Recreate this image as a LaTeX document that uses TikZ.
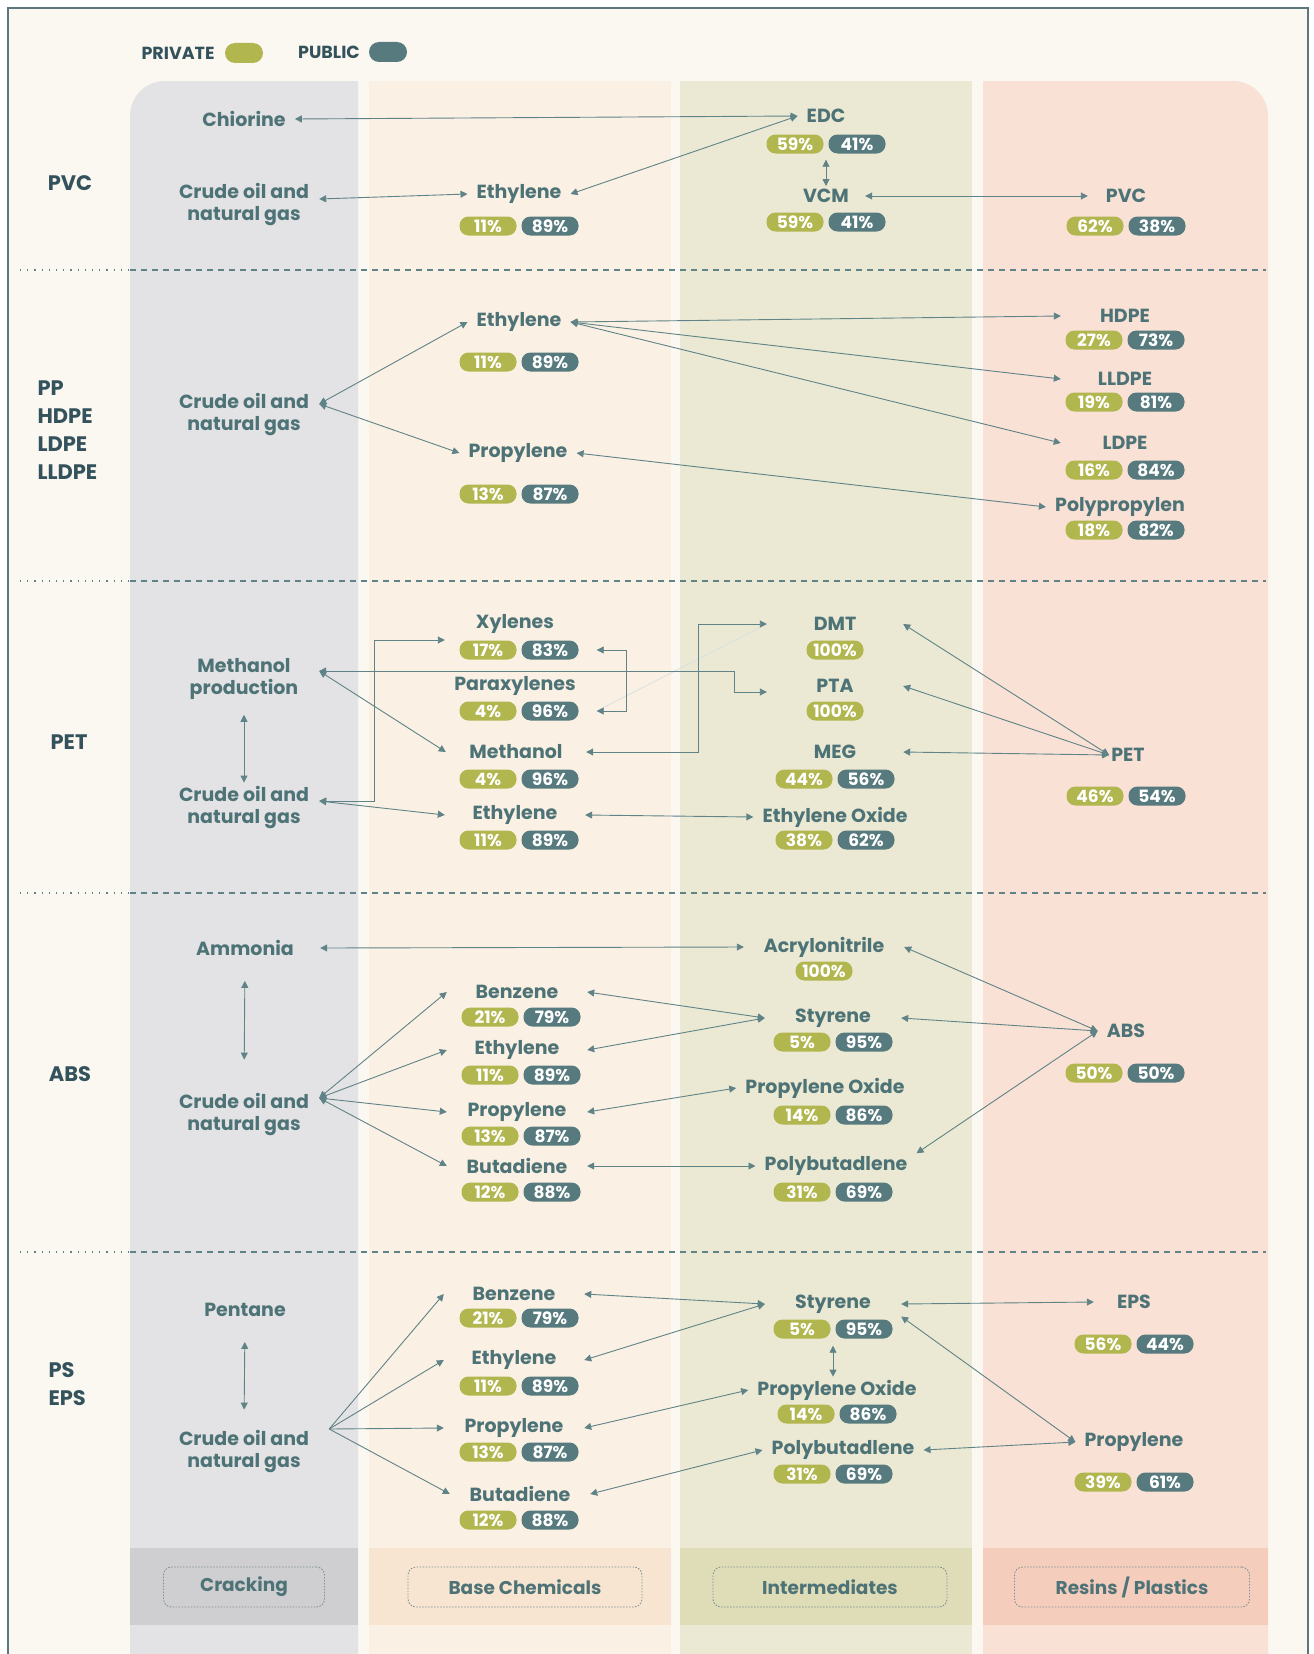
\documentclass[tikz,border=0pt]{standalone}
\usepackage{fontspec}
\setmainfont{Poppins}
\usetikzlibrary{arrows.meta}

\definecolor{ink}{HTML}{4E7376}
\definecolor{deep}{HTML}{33525C}
\definecolor{wire}{HTML}{5F8386}
\definecolor{olive}{HTML}{B2B64E}
\definecolor{slate}{HTML}{567A7D}
\definecolor{paper}{HTML}{FBF7F1}
\definecolor{rim}{HTML}{5D767B}
\definecolor{crackbg}{HTML}{E3E2E4}
\definecolor{basebg}{HTML}{FAF0E4}
\definecolor{interbg}{HTML}{EBE9D4}
\definecolor{resinbg}{HTML}{F9E1D6}
\definecolor{crackft}{HTML}{CFCED1}
\definecolor{baseft}{HTML}{F8E5D1}
\definecolor{interft}{HTML}{DFDCB8}
\definecolor{resinft}{HTML}{F5CDBD}

% two share pills under a product: name, x, y, private, public
\newcommand{\shares}[5]{%
  \node[pair] (#1)  at (#2,#3)              {};
  \node[priv] (#1p) at ([xshift=-31pt]#1.center) {#4\%};
  \node[publ] (#1q) at ([xshift=31pt]#1.center)  {#5\%};}

\begin{document}
\begin{tikzpicture}[x=1pt,y=-1pt,>={Triangle[length=7pt,width=7pt]},
    chem/.style={text=ink,font=\bfseries\fontsize{19}{22}\selectfont,inner xsep=9pt,inner ysep=3pt,align=center},
    feed/.style={chem,minimum width=150pt},
    base/.style={chem,minimum width=140pt},
    mid/.style={chem,minimum width=136pt},
    group/.style={text=deep,font=\bfseries\fontsize{21}{28}\selectfont,align=left},
    legend/.style={text=deep,font=\bfseries\fontsize{17.5}{17.5}\selectfont},
    priv/.style={fill=olive,text=white,rounded corners=9pt,minimum width=57pt,minimum height=19pt,inner sep=0pt,font=\bfseries\fontsize{17}{17}\selectfont},
    publ/.style={priv,fill=slate},
    pair/.style={minimum width=119pt,minimum height=19pt,inner sep=0pt},
    link/.style={draw=wire,line width=0.9pt,<->},
    feedlink/.style={link,->},
    faint/.style={draw=wire!25,line width=0.7pt},
    rule/.style={draw=wire,line width=1.1pt},
    stage/.style={draw=rim!80,line width=0.9pt,dash pattern=on 1.5pt off 1.5pt,rounded corners=8pt,text=ink,font=\bfseries\fontsize{18.5}{18.5}\selectfont,minimum height=40pt}]

  \useasboundingbox (0,0) rectangle (1314,1654);
  \fill[white] (0,0) rectangle (1314,1654);
  \fill[paper] (8,8) rectangle (1308,1654);

  \fill[crackbg] (130,1654) [rounded corners=35pt] -- (130,81) [sharp corners] -- (358,81) -- (358,1654) -- cycle;
  \fill[basebg]  (369,81) rectangle (671,1654);
  \fill[interbg] (680,81) rectangle (972,1654);
  \fill[resinbg] (983,1654) -- (983,81) [rounded corners=35pt] -- (1268,81) [sharp corners] -- (1268,1654) -- cycle;
  \fill[crackft] (130,1548) rectangle (358,1625);
  \fill[baseft]  (369,1548) rectangle (671,1625);
  \fill[interft] (680,1548) rectangle (972,1625);
  \fill[resinft] (983,1548) rectangle (1268,1625);

  \draw[rim,line width=1.2pt] (8,1660) -- (8,8) -- (1308,8) -- (1308,1660);

  \draw[rule,dash pattern=on 1.2pt off 6pt] (20,270) -- (130,270);
  \draw[rule,dash pattern=on 1.2pt off 6pt] (20,581) -- (130,581);
  \draw[rule,dash pattern=on 1.2pt off 6pt] (20,893) -- (130,893);
  \draw[rule,dash pattern=on 1.2pt off 6pt] (20,1252) -- (130,1252);
  \draw[rule,dash pattern=on 6pt off 5pt] (130,270) -- (1266,270);
  \draw[rule,dash pattern=on 6pt off 5pt] (130,581) -- (1266,581);
  \draw[rule,dash pattern=on 6pt off 5pt] (130,893) -- (1266,893);
  \draw[rule,dash pattern=on 6pt off 5pt] (130,1252) -- (1266,1252);

  \node[legend]                                            (privlab) at (178,53) {PRIVATE};
  \node[priv,minimum width=38pt,minimum height=20pt,rounded corners=10pt] (privkey) at (244,53) {};
  \node[legend]                                            (publab)  at (329,52) {PUBLIC};
  \node[publ,minimum width=38pt,minimum height=20pt,rounded corners=10pt] (publkey) at (388,52) {};

  \node[group]            (gpvc)  at (70,183)  {PVC};
  \node[group,anchor=west] (gpoly) at (34,430)  {PP\\HDPE\\LDPE\\LLDPE};
  \node[group]            (gpet)  at (69,742)  {PET};
  \node[group]            (gabs)  at (70,1074) {ABS};
  \node[group,anchor=west] (geps)  at (45,1384) {PS\\EPS};

  % PVC
  \node[chem]                   (chl)  at (244,119)  {Chiorine};
  \node[chem]                   (edc)  at (826,116)  {EDC};
  \shares{edcs}{826}{144}{59}{41}
  \node[feed]                   (oil1) at (244,205)  {Crude oil and\\natural gas};
  \node[chem]                   (eth1) at (519,194)  {Ethylene};
  \shares{eth1s}{519}{226}{11}{89}
  \node[chem,minimum width=78pt] (vcm)  at (826,196)  {VCM};
  \shares{vcms}{826}{222}{59}{41}
  \node[chem,minimum width=76pt] (pvc)  at (1126,196) {PVC};
  \shares{pvcs}{1126}{226}{62}{38}
  \path (chl.east)                edge[link] (edc.west)
        (eth1.east)               edge[link] (edc.west)
        ([yshift=6pt]oil1.east)   edge[link] (eth1.west)
        (edcs.south)              edge[link,shorten <=6pt] (vcm.north)
        (vcm.east)                edge[link] (pvc.west);

  % PP / PE
  \node[feed]                    (oil2)  at (244,414)  {Crude oil and\\natural gas};
  \node[chem]                    (eth2)  at (519,322)  {Ethylene};
  \shares{eth2s}{519}{362}{11}{89}
  \node[chem]                    (pro2)  at (518,453)  {Propylene};
  \shares{pro2s}{519}{494}{13}{87}
  \node[chem,minimum width=128pt] (hdpe)  at (1125,316) {HDPE};
  \shares{hdpes}{1125}{340}{27}{73}
  \node[chem,minimum width=128pt] (lldpe) at (1125,379) {LLDPE};
  \shares{lldpes}{1125}{402}{19}{81}
  \node[chem,minimum width=128pt] (ldpe)  at (1125,443) {LDPE};
  \shares{ldpes}{1125}{470}{16}{84}
  \node[chem]                    (pp)    at (1120,507) {Polypropylen};
  \shares{pps}{1125}{530}{18}{82}
  \path ([yshift=10pt]oil2.east) edge[link] (eth2.west) edge[link] (pro2.west)
        (eth2.east) edge[link] (hdpe.west) edge[link] (lldpe.west) edge[link] (ldpe.west)
        (pro2.east) edge[link] (pp.west);

  % PET
  \node[feed]                   (mprod) at (244,679)  {Methanol\\production};
  \node[feed]                   (oil3)  at (244,807)  {Crude oil and\\natural gas};
  \node[base]                   (xyl)   at (515,624)  {Xylenes};
  \shares{xyls}{519}{650}{17}{83}
  \node[base]                   (pxyl)  at (515,686)  {Paraxylenes};
  \shares{pxyls}{519}{711}{4}{96}
  \node[base]                   (meoh)  at (516,752)  {Methanol};
  \shares{meohs}{519}{779}{4}{96}
  \node[base]                   (eth3)  at (515,815)  {Ethylene};
  \shares{eth3s}{519}{840}{11}{89}
  \node[mid]                    (dmt)   at (835,624)  {DMT};
  \node[priv]                   (dmts)  at (835,650)  {100\%};
  \node[mid]                    (pta)   at (835,686)  {PTA};
  \node[priv]                   (ptas)  at (835,711)  {100\%};
  \node[mid]                    (meg)   at (835,752)  {MEG};
  \shares{megs}{835}{779}{44}{56}
  \node[chem]                   (eo)    at (835,817)  {Ethylene Oxide};
  \shares{eos}{835}{840}{38}{62}
  \node[chem,inner xsep=2pt]     (pet)   at (1128,755) {PET};
  \shares{pets}{1126}{796}{46}{54}
  \path (mprod.south)             edge[link,shorten <=12pt] (oil3.north)
        ([yshift=6pt]oil3.east)   edge[link] (eth3.west)
        ([yshift=8pt]mprod.east)  edge[link] (meoh.west)
        (eth3.east)               edge[link] (eo.west)
        (pet.west) edge[link] (dmt.east) edge[link] (pta.east) edge[link] (meg.east);
  \draw[faint] ([xshift=18pt]pxyls.east) -- (dmt.west);
  \draw[link] ([yshift=6pt]oil3.east) -- ++(55,0) |- ([yshift=-16pt]xyl.west);
  \draw[link] ([yshift=8pt]mprod.east) -- ++(415,0) |- ([yshift=-6pt]pta.west);
  \draw[link] ([xshift=18pt]xyls.east) -- ++(30,0) |- ([xshift=18pt]pxyls.east);
  \draw[link] (meoh.east) -- ++(112,0) |- (dmt.west);

  % ABS
  \node[feed]                    (nh3)  at (245,948)  {Ammonia};
  \node[feed]                    (oil4) at (244,1114) {Crude oil and\\natural gas};
  \node[base]                    (bz1)  at (517,992)  {Benzene};
  \shares{bz1s}{521}{1017}{21}{79}
  \node[base]                    (eth4) at (517,1050) {Ethylene};
  \shares{eth4s}{521}{1075}{11}{89}
  \node[base]                    (pro4) at (517,1112) {Propylene};
  \shares{pro4s}{521}{1136}{13}{87}
  \node[base]                    (bd1)  at (517,1166) {Butadiene};
  \shares{bd1s}{521}{1192}{12}{88}
  \node[mid,minimum width=160pt]  (acn)  at (824,947)  {Acrylonitrile};
  \node[priv]                    (acns) at (824,971)  {100\%};
  \node[mid]                     (sty1) at (833,1018) {Styrene};
  \shares{sty1s}{833}{1042}{5}{95}
  \node[chem]                    (po1)  at (825,1088) {Propylene Oxide};
  \shares{po1s}{833}{1115}{14}{86}
  \node[chem]                    (pbd1) at (836,1166) {Polybutadlene};
  \shares{pbd1s}{833}{1192}{31}{69}
  \node[chem]                    (abs)  at (1126,1031) {ABS};
  \shares{abss}{1125}{1073}{50}{50}
  \path (nh3.east)   edge[link] (acn.west)
        (nh3.south)  edge[link,shorten <=22pt,shorten >=30pt] (oil4.north)
        ([yshift=16pt]oil4.east) edge[link] (bz1.west) edge[link] (eth4.west)
                                 edge[link] (pro4.west) edge[link] (bd1.west)
        (bz1.east)   edge[link] (sty1.west)
        (eth4.east)  edge[link] (sty1.west)
        (pro4.east)  edge[link] (po1.west)
        (bd1.east)   edge[link] (pbd1.west)
        (abs.west) edge[link] (acn.east) edge[link] (sty1.east) edge[link] (pbd1.north east);

  % PS / EPS
  \node[feed]                   (c5)   at (245,1310) {Pentane};
  \node[feed]                   (oil5) at (244,1451) {Crude oil and\\natural gas};
  \node[base]                   (bz2)  at (514,1294) {Benzene};
  \shares{bz2s}{519}{1318}{21}{79}
  \node[base]                   (eth5) at (514,1360) {Ethylene};
  \shares{eth5s}{519}{1386}{11}{89}
  \node[base]                   (pro5) at (514,1428) {Propylene};
  \shares{pro5s}{519}{1452}{13}{87}
  \node[base]                   (bd2)  at (520,1494) {Butadiene};
  \shares{bd2s}{519}{1520}{12}{88}
  \node[mid]                    (sty2) at (833,1304) {Styrene};
  \shares{sty2s}{833}{1329}{5}{95}
  \node[chem]                   (po2)  at (837,1390) {Propylene Oxide};
  \shares{po2s}{837}{1414}{14}{86}
  \node[chem]                   (pbd2) at (843,1450) {Polybutadlene};
  \shares{pbd2s}{833}{1474}{31}{69}
  \node[chem,minimum width=80pt] (eps)  at (1134,1302) {EPS};
  \shares{epss}{1134}{1344}{56}{44}
  \node[chem]                   (pro6) at (1134,1442) {Propylene};
  \shares{pro6s}{1134}{1482}{39}{61}
  \path ([xshift=10pt,yshift=22pt]oil5.east) edge[feedlink] (bz2.west) edge[feedlink] (eth5.west)
                                             edge[feedlink] (pro5.west) edge[feedlink] (bd2.west)
        (c5.south)        edge[link,shorten <=22pt,shorten >=17pt] (oil5.north)
        (bz2.east)        edge[link] (sty2.west)
        (eth5.east)       edge[link] (sty2.west)
        (pro5.east)       edge[link] (po2.west)
        (bd2.east)        edge[link] (pbd2.west)
        (sty2.east)       edge[link] (eps.west)
        (sty2s.south)     edge[link,shorten <=7pt] (sty2s.south |- po2.north)
        (sty2.south east) edge[link] (pro6.west)
        (pbd2.east)       edge[link] (pro6.west);

  \node[stage,minimum width=161pt] (crk) at (244,1587)  {Cracking};
  \node[stage,minimum width=234pt] (bch) at (525,1587)  {Base Chemicals};
  \node[stage,minimum width=234pt] (itm) at (830,1587)  {Intermediates};
  \node[stage,minimum width=235pt] (rsn) at (1132,1587) {Resins / Plastics};
\end{tikzpicture}
\end{document}
